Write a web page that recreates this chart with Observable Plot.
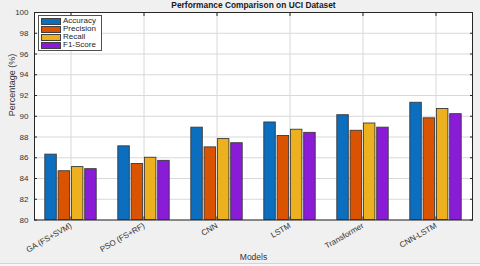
<!DOCTYPE html>
<html>
<head>
<meta charset="utf-8">
<script src="https://cdn.jsdelivr.net/npm/d3@7"></script>
<script src="https://cdn.jsdelivr.net/npm/@observablehq/plot@0.6"></script>
<style>
  html, body { margin: 0; padding: 0; background: #f7f7f7; }
  #wrap { position: relative; width: 480px; height: 263px; background: #f0f0f0; border-bottom: 1px solid #d4d4d4; overflow: hidden; font-family: "Liberation Sans", Arial, sans-serif; }
  #legend { position: absolute; left: 38px; top: 15px; background: #fff; border: 1px solid #505050; padding: 1px 5px 1px 2px; font-size: 8px; color: #262626; line-height: 8px; }
  #legend .row { display: flex; align-items: center; height: 8px; }
  #legend .sw { width: 18px; height: 5px; border: 1px solid #404040; margin-right: 2px; }
</style>
</head>
<body>
<div id="wrap"></div>
<script>
const models = ["GA (FS+SVM)", "PSO (FS+RF)", "CNN", "LSTM", "Transformer", "CNN-LSTM"];
const metrics = ["Accuracy", "Precision", "Recall", "F1-Score"];
const accuracy = [86.3, 87.1, 88.9, 89.4, 90.1, 91.3];
const precision = [84.7, 85.4, 87.0, 88.1, 88.6, 89.8];
const recall = [85.1, 86.0, 87.8, 88.7, 89.3, 90.7];
const f1Score = [84.9, 85.7, 87.4, 88.4, 88.9, 90.2];
const yTicks = [80, 82, 84, 86, 88, 90, 92, 94, 96, 98, 100];
const colors = ["#0c6ebf", "#d95300", "#edb120", "#8a1bd6"];
const titleText = "Performance Comparison on UCI Dataset";

const series = [accuracy, precision, recall, f1Score];
const base = yTicks[0];

const W = 480, H = 263;
const mL = 34, mR = 8, mT = 12, mB = 43.5;
const band = (W - mL - mR) / models.length;
const barW = 11.5, step = 13.3;

const barMarks = series.map((vals, i) => {
  const left = band / 2 - 1.5 * step - barW / 2 + i * step;
  const data = models.map((m, j) => ({model: m, metric: metrics[i], value: vals[j], base}));
  return Plot.barY(data, {
    x: "model", y1: "base", y2: "value",
    fill: colors[i], stroke: "#3a3a3a", strokeWidth: 0.9,
    insetLeft: left, insetRight: band - left - barW
  });
});

const axisColor = "#262626";
const blank = () => "";
const chart = Plot.plot({
  width: W, height: H,
  marginLeft: mL, marginRight: mR, marginTop: mT, marginBottom: mB,
  style: {fontFamily: "Liberation Sans, Arial, sans-serif", fontSize: "8px", color: axisColor, background: "transparent", overflow: "visible"},
  x: {domain: models, padding: 0, axis: null},
  y: {domain: [80, 100], axis: null},
  marks: [
    Plot.frame({fill: "white"}),
    Plot.gridX({stroke: "#d8d8d8", strokeOpacity: 1}),
    Plot.gridY(yTicks, {stroke: "#d8d8d8", strokeOpacity: 1}),
    ...barMarks,
    Plot.frame({stroke: axisColor, strokeWidth: 1}),
    Plot.axisY(yTicks, {anchor: "left", tickSize: -3, tickPadding: 9, label: null, stroke: axisColor, fill: "#333"}),
    Plot.axisY(yTicks, {anchor: "right", tickSize: -3, tickFormat: blank, label: null, stroke: axisColor}),
    Plot.axisX({anchor: "bottom", tickSize: -3, tickPadding: 8, tickRotate: -30, label: null, stroke: axisColor, fill: "#333"}),
    Plot.axisX({anchor: "top", tickSize: -3, tickFormat: blank, label: null, stroke: axisColor}),
    Plot.text(["Percentage (%)"], {frameAnchor: "left", dx: -22, rotate: -90, fontSize: 9, fill: "#333"}),
    Plot.text(["Models"], {frameAnchor: "bottom", dy: 40, fontSize: 8.5, fill: "#333"}),
    Plot.text([titleText], {frameAnchor: "top", dy: -7.5, fontWeight: "bold", fontSize: 8.4, fill: "#1a1a1a", lineAnchor: "middle"})
  ]
});

const wrap = document.getElementById("wrap");
wrap.appendChild(chart);

const legend = document.createElement("div");
legend.id = "legend";
metrics.forEach((m, i) => {
  const row = document.createElement("div");
  row.className = "row";
  const sw = document.createElement("div");
  sw.className = "sw";
  sw.style.background = colors[i];
  const lab = document.createElement("span");
  lab.textContent = m;
  row.appendChild(sw);
  row.appendChild(lab);
  legend.appendChild(row);
});
wrap.appendChild(legend);
</script>
</body>
</html>
